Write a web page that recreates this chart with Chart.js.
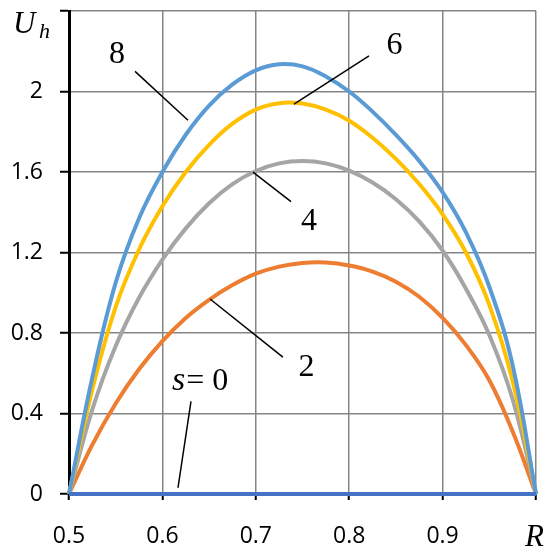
<!DOCTYPE html>
<html>
<head>
<meta charset="utf-8">
<script src="https://cdn.jsdelivr.net/npm/chart.js@4"></script>
<style>
  html, body { margin: 0; padding: 0; background: #fff; }
  #wrap { width: 550px; height: 555px; }
</style>
</head>
<body>
<div id="wrap"><canvas id="chart"></canvas></div>
<script>
// R grid and U_h values per s
const rValues = [0.5, 0.525, 0.55, 0.575, 0.6, 0.625, 0.65, 0.675, 0.7, 0.725, 0.75, 0.775, 0.8, 0.825, 0.85, 0.875, 0.9, 0.925, 0.95, 0.975, 1.0];
const uS0 = [0, 0, 0, 0, 0, 0, 0, 0, 0, 0, 0, 0, 0, 0, 0, 0, 0, 0, 0, 0, 0];
const uS2 = [0, 0.245, 0.45, 0.62, 0.76, 0.875, 0.965, 1.038, 1.095, 1.13, 1.148, 1.15, 1.135, 1.105, 1.055, 0.98, 0.875, 0.74, 0.565, 0.31, 0];
const uS4 = [0, 0.42, 0.735, 0.975, 1.165, 1.32, 1.445, 1.54, 1.605, 1.643, 1.655, 1.643, 1.607, 1.548, 1.465, 1.355, 1.21, 1.02, 0.79, 0.47, 0];
const uS6 = [0, 0.52, 0.93, 1.215, 1.43, 1.6, 1.735, 1.84, 1.91, 1.942, 1.94, 1.91, 1.855, 1.77, 1.665, 1.54, 1.39, 1.2, 0.94, 0.56, 0];
const uS8 = [0, 0.58, 1.05, 1.37, 1.6, 1.785, 1.93, 2.035, 2.105, 2.135, 2.125, 2.075, 2.0, 1.9, 1.785, 1.655, 1.5, 1.3, 1.03, 0.64, 0];

const xTicks = [0.5, 0.6, 0.7, 0.8, 0.9, 1.0];
const yTicks = [0, 0.4, 0.8, 1.2, 1.6, 2, 2.4];

// curve labels with leader lines, in data units (R, U)
const curveLabels = [
  { text: '8', at: [0.5514, 2.195], from: [0.5707, 2.10], to: [0.6274, 1.857] },
  { text: '6', at: [0.8485, 2.24], from: [0.8212, 2.177], to: [0.7409, 1.937] },
  { text: '4', at: [0.757, 1.363], from: [0.7377, 1.453], to: [0.697, 1.599] },
  { text: '2', at: [0.7543, 0.64], from: [0.729, 0.68], to: [0.651, 0.969] }
];
const zeroLabel = { at: [0.6103, 0.561], from: [0.6306, 0.46], to: [0.6167, 0.031] };

function toPts(ys) {
  return rValues.map((r, i) => ({ x: r, y: ys[i] }));
}

function fmt(v) {
  return Number(v.toFixed(1)).toString();
}

const annotations = {
  id: 'annotations',
  afterDatasetsDraw(chart) {
    const ctx = chart.ctx;
    const xs = chart.scales.x, ys = chart.scales.y;
    const px = p => [xs.getPixelForValue(p[0]), ys.getPixelForValue(p[1])];
    ctx.save();
    ctx.strokeStyle = '#000';
    ctx.lineWidth = 1.5;
    ctx.fillStyle = '#000';
    ctx.textAlign = 'center';
    ctx.textBaseline = 'middle';
    ctx.font = '32px "Liberation Serif", "Times New Roman", serif';

    const leader = (a, b) => {
      const p1 = px(a), p2 = px(b);
      ctx.beginPath();
      ctx.moveTo(p1[0], p1[1]);
      ctx.lineTo(p2[0], p2[1]);
      ctx.stroke();
    };

    curveLabels.forEach(l => {
      leader(l.from, l.to);
      const p = px(l.at);
      ctx.fillText(l.text, p[0], p[1] + 2);
    });

    leader(zeroLabel.from, zeroLabel.to);
    const z = px(zeroLabel.at);
    ctx.textAlign = 'left';
    ctx.font = 'italic 34px "Liberation Serif", serif';
    ctx.fillText('s', z[0], z[1]);
    const sw = ctx.measureText('s').width;
    ctx.font = '32px "Liberation Serif", serif';
    ctx.fillText('= 0', z[0] + sw + 1, z[1]);

    // axis titles
    const area = chart.chartArea;
    ctx.textBaseline = 'alphabetic';
    ctx.font = 'italic 31px "Liberation Serif", serif';
    ctx.fillText('U', area.left - 56, area.top + 22);
    ctx.font = 'italic 22px "Liberation Serif", serif';
    ctx.fillText('h', area.left - 30, area.top + 27);
    ctx.font = 'italic 31px "Liberation Serif", serif';
    ctx.fillText('R', area.right - 11, area.bottom + 52);
    ctx.restore();
  }
};

const lineOpts = { borderWidth: 4, pointRadius: 0, tension: 0.4, clip: false, fill: false };

new Chart(document.getElementById('chart'), {
  type: 'line',
  data: {
    datasets: [
      { label: 's = 8', data: toPts(uS8), borderColor: '#5B9BD5', order: 1, ...lineOpts },
      { label: 's = 6', data: toPts(uS6), borderColor: '#FFC000', order: 2, ...lineOpts },
      { label: 's = 4', data: toPts(uS4), borderColor: '#A5A5A5', order: 3, ...lineOpts },
      { label: 's = 2', data: toPts(uS2), borderColor: '#ED7D31', order: 4, ...lineOpts },
      { label: 's = 0', data: toPts(uS0), borderColor: '#4472C4', order: 0, ...lineOpts }
    ]
  },
  options: {
    responsive: true,
    maintainAspectRatio: false,
    animation: false,
    layout: { padding: { top: 11, right: 14, left: 0, bottom: 0 } },
    plugins: { legend: { display: false }, tooltip: { enabled: false } },
    scales: {
      x: {
        type: 'linear',
        min: 0.5,
        max: 1.0,
        afterBuildTicks: s => { s.ticks = xTicks.map(v => ({ value: v })); },
        afterFit: s => { s.height = 61; s.paddingLeft = 0; s.paddingRight = 0; },
        grid: { color: '#858585', lineWidth: 1.5, tickColor: '#000', tickLength: 6, tickWidth: 2 },
        border: { color: '#000', width: 2 },
        ticks: {
          padding: 23,
          color: '#000',
          font: { family: '"Open Sans", sans-serif', size: 23 },
          callback: v => (v >= 1 ? '' : fmt(v))
        }
      },
      y: {
        min: 0,
        max: 2.4,
        afterBuildTicks: s => { s.ticks = yTicks.map(v => ({ value: v })); },
        afterFit: s => { s.width = 69; s.paddingTop = 0; s.paddingBottom = 0; },
        grid: { color: '#858585', lineWidth: 1.5, tickColor: '#000', tickLength: 9, tickWidth: 2 },
        border: { color: '#000', width: 3 },
        ticks: {
          padding: 17,
          color: '#000',
          font: { family: '"Open Sans", sans-serif', size: 23 },
          callback: v => (v >= 2.4 ? '' : fmt(v))
        }
      }
    }
  },
  plugins: [annotations]
});
</script>
</body>
</html>
